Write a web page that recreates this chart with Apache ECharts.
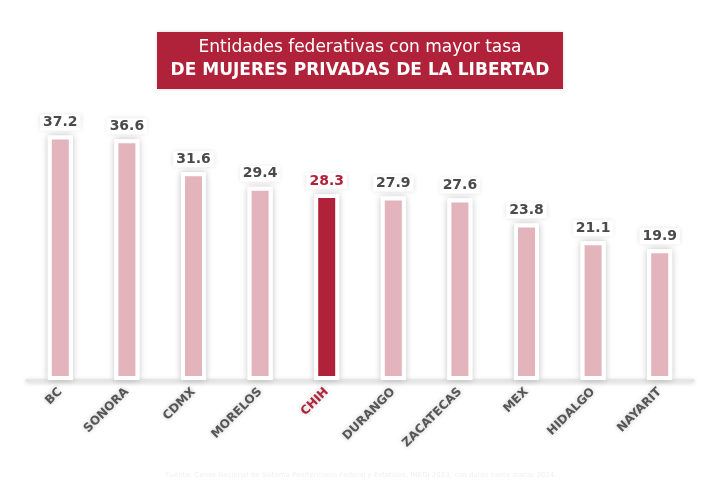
<!DOCTYPE html>
<html>
<head>
<meta charset="utf-8">
<script src="https://cdn.jsdelivr.net/npm/echarts@6/dist/echarts.min.js"></script>
<style>
  html, body { margin: 0; padding: 0; background: #fff; }
  #main { width: 720px; height: 480px; }
</style>
</head>
<body>
<div id="main"></div>
<script>
var entidades = ['BC', 'SONORA', 'CDMX', 'MORELOS', 'CHIH', 'DURANGO', 'ZACATECAS', 'MEX', 'HIDALGO', 'NAYARIT'];
var tasas = [37.2, 36.6, 31.6, 29.4, 28.3, 27.9, 27.6, 23.8, 21.1, 19.9];
var destacado = 'CHIH';

var rojo = '#b0223a';
var rosa = '#e3b4bc';
var gris = '#4a4a4a';

var chart = echarts.init(document.getElementById('main'));

var data = tasas.map(function (v, i) {
  var hi = entidades[i] === destacado;
  return {
    value: v,
    itemStyle: { color: hi ? rojo : rosa },
    label: { color: hi ? rojo : gris }
  };
});

var options = {
  backgroundColor: '#fff',
  animation: false,
  grid: { left: 27, right: 27, top: 117, bottom: 100 },
  xAxis: {
    type: 'category',
    data: entidades,
    axisTick: { show: false },
    axisLine: {
      lineStyle: { color: '#e6e6e6', width: 3, shadowBlur: 4, shadowColor: 'rgba(0,0,0,0.2)', shadowOffsetY: 1 }
    },
    axisLabel: {
      rotate: 45,
      interval: 0,
      margin: 10,
      fontFamily: 'DejaVu Sans',
      fontWeight: 'bold',
      fontSize: 12,
      color: function (val) { return val === destacado ? rojo : '#555'; },
      textShadowColor: 'rgba(0,0,0,0.25)',
      textShadowBlur: 4
    }
  },
  yAxis: {
    type: 'value',
    min: 0,
    max: 40,
    show: false,
    splitLine: { show: false }
  },
  series: [
    {
      // sombra blanca detras de cada barra
      type: 'bar',
      data: tasas,
      barWidth: 25,
      barGap: '-100%',
      silent: true,
      itemStyle: {
        color: '#fff',
        borderColor: '#fff',
        borderWidth: 4,
        shadowBlur: 7,
        shadowColor: 'rgba(0,0,0,0.2)'
      }
    },
    {
      type: 'bar',
      data: data,
      barWidth: 25,
      barGap: '-100%',
      itemStyle: {
        borderColor: '#fff',
        borderWidth: 4
      },
      label: {
        show: true,
        position: 'top',
        distance: 5,
        fontFamily: 'DejaVu Sans',
        fontWeight: 'bold',
        fontSize: 14,
        backgroundColor: '#fff',
        padding: [1, 3],
        shadowBlur: 5,
        shadowColor: 'rgba(0,0,0,0.12)'
      }
    }
  ],
  graphic: [
    {
      type: 'rect',
      shape: { x: 157, y: 32, width: 406, height: 57 },
      style: { fill: rojo, shadowBlur: 4, shadowColor: 'rgba(0,0,0,0.15)' }
    },
    {
      type: 'text',
      x: 360, y: 48,
      style: {
        text: 'Entidades federativas con mayor tasa',
        fill: '#fff',
        font: '17px "DejaVu Sans"',
        align: 'center',
        verticalAlign: 'middle'
      }
    },
    {
      type: 'text',
      x: 360, y: 71,
      style: {
        text: 'DE MUJERES PRIVADAS DE LA LIBERTAD',
        fill: '#fff',
        font: 'bold 17px "DejaVu Sans"',
        align: 'center',
        verticalAlign: 'middle'
      }
    },
    {
      type: 'text',
      x: 360, y: 475,
      style: {
        text: 'Fuente: Censo Nacional de Sistema Penitenciario Federal y Estatales, INEGI 2023, con datos hasta marzo 2024',
        fill: '#f0f0f0',
        font: '7px "DejaVu Sans"',
        align: 'center',
        verticalAlign: 'middle'
      }
    }
  ]
};

chart.setOption(options);
</script>
</body>
</html>
